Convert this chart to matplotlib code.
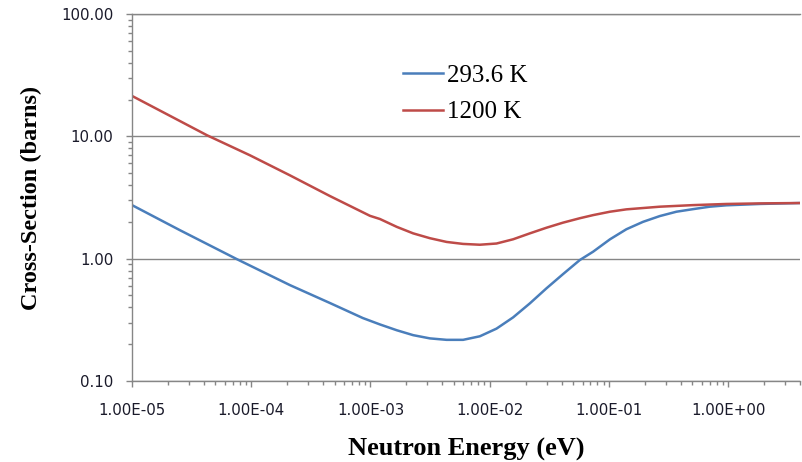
import matplotlib
matplotlib.use("Agg")
import matplotlib.pyplot as plt
from matplotlib.ticker import FuncFormatter, LogLocator, NullFormatter


# values (energy in eV, cross-section in barns)
energy_cold = [1.0e-5, 2.52e-5, 7.59e-5, 2.11e-4, 4.57e-4, 8.63e-4, 1.20e-3,
               1.66e-3, 2.28e-3, 3.15e-3, 4.35e-3, 5.98e-3, 8.26e-3, 1.14e-2,
               1.57e-2, 2.17e-2, 2.99e-2, 4.12e-2, 5.69e-2, 7.36e-2, 0.102,
               0.140, 0.193, 0.267, 0.368, 0.507, 0.700, 0.966, 1.84, 4.0]
xs_cold = [2.74, 1.71, 0.99, 0.608, 0.434, 0.327, 0.290,
           0.260, 0.237, 0.223, 0.217, 0.217, 0.232, 0.268,
           0.331, 0.431, 0.572, 0.748, 0.974, 1.14, 1.44,
           1.74, 2.00, 2.23, 2.42, 2.54, 2.66, 2.73, 2.80, 2.85]

energy_hot = [1.0e-5, 4.26e-5, 9.75e-5, 2.11e-4, 4.57e-4, 9.9e-4, 1.20e-3,
              1.66e-3, 2.28e-3, 3.15e-3, 4.35e-3, 5.98e-3, 8.26e-3, 1.14e-2,
              1.57e-2, 2.17e-2, 2.99e-2, 4.12e-2, 5.69e-2, 7.36e-2, 0.102,
              0.140, 0.267, 0.507, 0.966, 1.84, 4.0]
xs_hot = [21.4, 10.2, 7.0, 4.8, 3.25, 2.24, 2.11,
          1.82, 1.61, 1.47, 1.37, 1.32, 1.30, 1.33,
          1.44, 1.61, 1.79, 1.97, 2.14, 2.27, 2.42,
          2.53, 2.66, 2.74, 2.80, 2.83, 2.85]

labels = ["293.6 K", "1200 K"]
colors = ["#4A7EBB", "#BE4B48"]
grid_col = "#868686"

W, H = 802, 462
fig = plt.figure(figsize=(W/100, H/100), dpi=100)
ax = fig.add_axes([132/W, (H-381)/H, (800-132)/W, (381-14)/H])

ax.plot(energy_cold, xs_cold, color=colors[0], lw=1.8, label=labels[0])
ax.plot(energy_hot, xs_hot, color=colors[1], lw=1.8, label=labels[1])

ax.set_xscale("log")
ax.set_yscale("log")
ax.set_xlim(1e-5, 4.0)
ax.set_ylim(0.1, 100)

ax.xaxis.set_major_locator(LogLocator(base=10, numticks=20))
ax.xaxis.set_minor_locator(LogLocator(base=10, subs=range(2, 10), numticks=100))
ax.yaxis.set_major_locator(LogLocator(base=10, numticks=20))
ax.yaxis.set_minor_locator(LogLocator(base=10, subs=range(2, 10), numticks=100))
ax.xaxis.set_major_formatter(FuncFormatter(lambda v, p: "%.2E" % v))
ax.yaxis.set_major_formatter(FuncFormatter(lambda v, p: "%.2f" % v))
ax.xaxis.set_minor_formatter(NullFormatter())
ax.yaxis.set_minor_formatter(NullFormatter())

for side in ["left", "bottom", "top"]:
    ax.spines[side].set_color(grid_col)
    ax.spines[side].set_linewidth(1.0)
ax.spines["right"].set_visible(False)

ax.tick_params(which="major", direction="out", length=4.5, width=1.0, color=grid_col,
               labelsize=10.8, labelcolor="#1a1a2a")
ax.tick_params(which="minor", direction="out", length=3.2, width=1.0, color=grid_col)
ax.tick_params(axis="x", which="major", pad=11)
ax.tick_params(axis="y", which="major", pad=9)
ax.tick_params(top=False, right=False, which="both")

ax.grid(True, which="major", axis="y", color=grid_col, lw=1.0)
ax.set_axisbelow(True)

ax.set_xlabel("Neutron Energy (eV)", family="Liberation Serif", fontweight="bold",
              fontsize=19, labelpad=15)
ax.set_ylabel("Cross-Section (barns)", family="Liberation Serif", fontweight="bold",
              fontsize=17.5, labelpad=14)

ax.legend(loc="upper left", bbox_to_anchor=(403/W, 1-64/H), bbox_transform=fig.transFigure,
          frameon=False, prop={"family": "Liberation Serif", "size": 18},
          handlelength=1.6, handletextpad=0.16, labelspacing=0.58,
          borderpad=0, borderaxespad=0)

fig.savefig("out.png", dpi=100)
plt.close(fig)
